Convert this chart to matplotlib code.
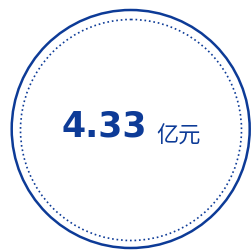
import matplotlib
matplotlib.use("Agg")
import matplotlib.pyplot as plt
from matplotlib.patches import Circle

value_text = ["4.33"]
unit_text = ["亿元"]

color = "#0d3b97"

fig = plt.figure(figsize=(2.52, 2.50), dpi=100)
ax = fig.add_axes([0, 0, 1, 1])
ax.set_xlim(0, 252)
ax.set_ylim(250, 0)
ax.axis("off")

ax.add_patch(Circle((130.7, 129), 119, fill=False, edgecolor=color, linewidth=1.8))
ax.add_patch(Circle((131, 130), 110.5, fill=False, edgecolor=color, linewidth=1.2,
                    linestyle=(0, (1, 1.7))))

ax.text(104.4, 136.7, value_text[0], ha="center", va="baseline", color=color,
        fontsize=25, fontweight="bold", family=["DejaVu Sans"])
ax.text(179, 142.5, unit_text[0], ha="center", va="baseline", color=color,
        fontsize=16, family=["Noto Sans CJK SC", "DejaVu Sans"])

fig.savefig("out.png", dpi=100)
